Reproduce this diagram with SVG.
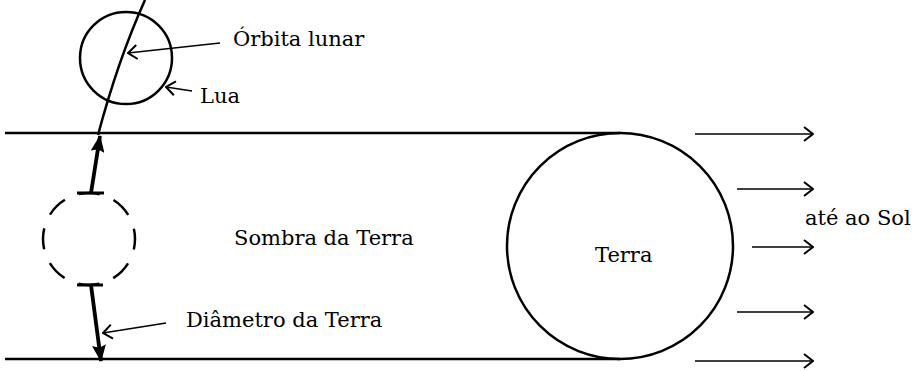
<svg xmlns="http://www.w3.org/2000/svg" width="921" height="371" viewBox="0 0 921 371">
  <style>
    .ln { fill: none; stroke: #000; stroke-width: 2.5; }
    .thin { fill: none; stroke: #000; stroke-width: 1.6; }
    .bold { fill: none; stroke: #000; stroke-width: 3.8; }
    .lbl { font-family: "DejaVu Serif", "Liberation Serif", serif; font-size: 21px; fill: #000; }
  </style>
  <defs>
    <marker id="open" viewBox="0 0 12 16" refX="11" refY="8" markerWidth="12" markerHeight="16" markerUnits="userSpaceOnUse" orient="auto">
      <path d="M2,1 L11,8 L2,15" fill="none" stroke="#000" stroke-width="2"/>
    </marker>
    <marker id="solid" viewBox="0 0 18 14" refX="17" refY="7" markerWidth="18" markerHeight="14" markerUnits="userSpaceOnUse" orient="auto">
      <path d="M18,7 L1,0 Q5,7 1,14 Z" fill="#000"/>
    </marker>
  </defs>
  <rect width="921" height="371" fill="#fff"/>

  <!-- shadow cylinder edges -->
  <g id="shadow">
    <line class="ln" x1="5" y1="133" x2="620" y2="133"/>
    <line class="ln" x1="5" y1="359" x2="620" y2="359"/>
    <text class="lbl" x="234" y="245">Sombra da Terra</text>
  </g>

  <!-- Earth -->
  <g id="earth">
    <circle class="ln" cx="620" cy="246" r="113"/>
    <text class="lbl" x="595" y="262">Terra</text>
  </g>

  <!-- Moon on its orbit -->
  <g id="moon">
    <circle class="ln" cx="126" cy="58" r="46"/>
  </g>

  <!-- Moon position inside the shadow -->
  <g id="moon-shadow">
    <circle class="ln" cx="89" cy="239" r="46" stroke-dasharray="21.1 15" stroke-dashoffset="10.5"/>
  </g>

  <g id="labels">
    <text class="lbl" x="233" y="46">Órbita lunar</text>
    <text class="lbl" x="200" y="103">Lua</text>
    <text class="lbl" x="186" y="327">Diâmetro da Terra</text>
    <text class="lbl" x="805" y="225">até ao Sol</text>
  </g>

  <g id="connectors">
    <!-- lunar orbit -->
    <path class="ln" d="M145,0 Q118,60 98,135"/>
    <!-- diameter arrows -->
    <line class="bold" x1="91" y1="193" x2="100" y2="136" marker-end="url(#solid)"/>
    <line class="bold" x1="91" y1="285" x2="101" y2="361" marker-end="url(#solid)"/>
    <line x1="77" y1="193" x2="104" y2="193" stroke="#000" stroke-width="3"/>
    <line x1="77" y1="285" x2="103" y2="285" stroke="#000" stroke-width="3"/>
    <!-- label pointers -->
    <line class="thin" x1="220" y1="43" x2="128" y2="53" marker-end="url(#open)"/>
    <line class="thin" x1="192" y1="91" x2="166" y2="87" marker-end="url(#open)"/>
    <line class="thin" x1="166" y1="323" x2="103" y2="333" marker-end="url(#open)"/>
    <!-- sunlight direction -->
    <line class="thin" x1="695" y1="134" x2="813" y2="134" marker-end="url(#open)"/>
    <line class="thin" x1="737" y1="189" x2="813" y2="189" marker-end="url(#open)"/>
    <line class="thin" x1="752" y1="247" x2="813" y2="247" marker-end="url(#open)"/>
    <line class="thin" x1="737" y1="312" x2="813" y2="312" marker-end="url(#open)"/>
    <line class="thin" x1="695" y1="361" x2="813" y2="361" marker-end="url(#open)"/>
  </g>
</svg>
